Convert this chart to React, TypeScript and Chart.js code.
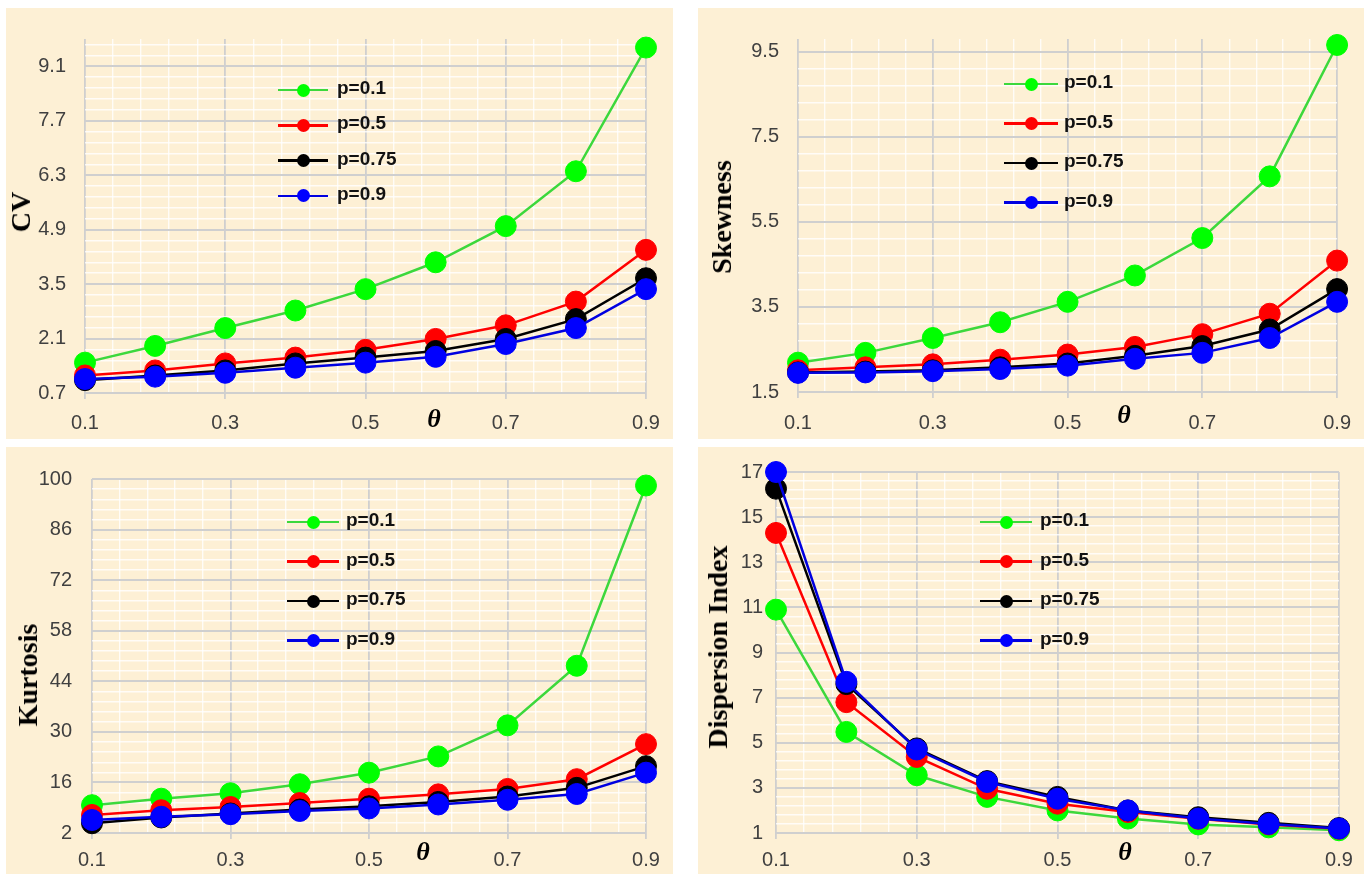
import React, { useEffect, useRef } from "react";
import { Chart, registerables } from "chart.js";

Chart.register(...registerables);

// ---------------- data ----------------
const THETA = [0.1, 0.2, 0.3, 0.4, 0.5, 0.6, 0.7, 0.8, 0.9];
const X_TICKS = [0.1, 0.3, 0.5, 0.7, 0.9];
const X_TICK_LABELS = ["0.1", "0.3", "0.5", "0.7", "0.9"];
const SERIES_LABELS = ["p=0.1", "p=0.5", "p=0.75", "p=0.9"];

const CV_P01 = [1.48, 1.91, 2.37, 2.82, 3.37, 4.06, 4.99, 6.4, 9.58];
const CV_P05 = [1.15, 1.28, 1.46, 1.61, 1.81, 2.09, 2.44, 3.05, 4.38];
const CV_P075 = [1.03, 1.15, 1.28, 1.46, 1.61, 1.78, 2.09, 2.6, 3.65];
const CV_P09 = [1.06, 1.12, 1.22, 1.35, 1.48, 1.63, 1.96, 2.37, 3.37];
const CV_TICKS = [0.7, 2.1, 3.5, 4.9, 6.3, 7.7, 9.1];
const CV_TICK_LABELS = ["0.7", "2.1", "3.5", "4.9", "6.3", "7.7", "9.1"];

const SK_P01 = [2.19, 2.42, 2.77, 3.14, 3.62, 4.24, 5.12, 6.57, 9.66];
const SK_P05 = [2.01, 2.08, 2.15, 2.26, 2.38, 2.56, 2.86, 3.34, 4.59];
const SK_P075 = [1.96, 1.98, 2.01, 2.08, 2.17, 2.35, 2.58, 2.97, 3.92];
const SK_P09 = [1.95, 1.96, 1.99, 2.04, 2.12, 2.28, 2.42, 2.77, 3.62];
const SK_TICKS = [1.5, 3.5, 5.5, 7.5, 9.5];
const SK_TICK_LABELS = ["1.5", "3.5", "5.5", "7.5", "9.5"];

const KU_P01 = [9.7, 11.5, 13.0, 15.5, 18.7, 23.2, 31.8, 48.3, 98.2];
const KU_P05 = [7.0, 8.3, 9.2, 10.3, 11.5, 12.7, 14.2, 16.9, 26.6];
const KU_P075 = [4.7, 6.3, 7.4, 8.5, 9.4, 10.6, 12.1, 14.5, 20.5];
const KU_P09 = [5.6, 6.5, 7.2, 8.1, 8.8, 9.9, 11.2, 12.8, 18.7];
const KU_TICKS = [2, 16, 30, 44, 58, 72, 86, 100];
const KU_TICK_LABELS = ["2", "16", "30", "44", "58", "72", "86", "100"];

const DI_P01 = [10.9, 5.48, 3.56, 2.6, 2.0, 1.64, 1.38, 1.25, 1.12];
const DI_P05 = [14.3, 6.8, 4.37, 2.96, 2.3, 1.93, 1.63, 1.38, 1.19];
const DI_P075 = [16.26, 7.6, 4.75, 3.3, 2.6, 2.0, 1.7, 1.45, 1.22];
const DI_P09 = [17.0, 7.7, 4.7, 3.26, 2.52, 2.0, 1.64, 1.4, 1.2];
const DI_TICKS = [1, 3, 5, 7, 9, 11, 13, 15, 17];
const DI_TICK_LABELS = ["1", "3", "5", "7", "9", "11", "13", "15", "17"];

// ---------------- styles ----------------
const BG = "#FDF0D5";
const MARKER_COLORS = ["#00FF00", "#FF0000", "#000000", "#0000FF"];
const LINE_COLORS = ["#3CD83C", "#FF0000", "#000000", "#0000E0"];
const MAJOR_GRID = "#CFCFCF";
const MINOR_GRID = "rgba(255,255,255,0.8)";
const TICK_COLOR = "#404040";

type PanelCfg = {
  left: number; top: number; width: number; height: number;
  title: string; titleX: number; titleY: number;
  series: number[][];
  yTicks: number[]; yLabels: string[]; yMin: number; yMax: number;
  yWidth: number; yPad: number; xHeight: number; xPad: number;
  padTop: number; padRight: number;
  thetaX: number; thetaY: number;
  legX0: number; legX1: number; legTX: number; legY0: number; legDY: number;
};

const PANELS: PanelCfg[] = [
  {
    left: 6, top: 8, width: 667, height: 431,
    title: "CV", titleX: 21, titleY: 212,
    series: [CV_P01, CV_P05, CV_P075, CV_P09],
    yTicks: CV_TICKS, yLabels: CV_TICK_LABELS, yMin: 0.7, yMax: 9.8,
    yWidth: 79, yPad: 19, xHeight: 46, xPad: 12, padTop: 25, padRight: 27,
    thetaX: 434, thetaY: 419,
    legX0: 278, legX1: 328, legTX: 337, legY0: 90, legDY: 35.3,
  },
  {
    left: 698, top: 8, width: 666, height: 431,
    title: "Skewness", titleX: 722, titleY: 217,
    series: [SK_P01, SK_P05, SK_P075, SK_P09],
    yTicks: SK_TICKS, yLabels: SK_TICK_LABELS, yMin: 1.5, yMax: 9.8,
    yWidth: 100, yPad: 19, xHeight: 47, xPad: 13, padTop: 25, padRight: 24,
    thetaX: 1124, thetaY: 415,
    legX0: 1004, legX1: 1058, legTX: 1064, legY0: 84, legDY: 39.5,
  },
  {
    left: 6, top: 447, width: 667, height: 427,
    title: "Kurtosis", titleX: 28, titleY: 675,
    series: [KU_P01, KU_P05, KU_P075, KU_P09],
    yTicks: KU_TICKS, yLabels: KU_TICK_LABELS, yMin: 2, yMax: 100,
    yWidth: 86, yPad: 20, xHeight: 41, xPad: 9, padTop: 24, padRight: 27,
    thetaX: 423, thetaY: 852,
    legX0: 287, legX1: 339, legTX: 346, legY0: 522, legDY: 39.5,
  },
  {
    left: 698, top: 447, width: 666, height: 427,
    title: "Dispersion Index", titleX: 718, titleY: 647,
    series: [DI_P01, DI_P05, DI_P075, DI_P09],
    yTicks: DI_TICKS, yLabels: DI_TICK_LABELS, yMin: 1, yMax: 17,
    yWidth: 78, yPad: 13, xHeight: 41, xPad: 9, padTop: 24, padRight: 25,
    thetaX: 1125, thetaY: 852,
    legX0: 980, legX1: 1032, legTX: 1040, legY0: 522, legDY: 39.5,
  },
];

function gridValues(majors: number[], max: number): number[] {
  const out: number[] = [];
  const step = majors[1] - majors[0];
  const minor = step / 5;
  for (let i = 0; i < majors.length; i++) {
    out.push(majors[i]);
    for (let k = 1; k < 5; k++) {
      const v = majors[i] + minor * k;
      if (v <= max + 1e-9) out.push(v);
    }
  }
  return out.filter((v) => v <= max + 1e-9);
}

function isMajor(majors: number[], v: number | undefined) {
  if (v === undefined) return false;
  return majors.some((m) => Math.abs(m - v) < 1e-6);
}

function Panel({ cfg }: { cfg: PanelCfg }) {
  const ref = useRef<HTMLCanvasElement | null>(null);

  useEffect(() => {
    if (!ref.current) return;
    const xMajors = X_TICKS;
    const yMajors = cfg.yTicks;
    const chart = new Chart(ref.current, {
      type: "line",
      data: {
        datasets: cfg.series.map((vals, i) => ({
          label: SERIES_LABELS[i],
          data: THETA.map((x, j) => ({ x, y: vals[j] })),
          borderColor: LINE_COLORS[i],
          backgroundColor: MARKER_COLORS[i],
          pointBackgroundColor: MARKER_COLORS[i],
          pointBorderColor: MARKER_COLORS[i],
          pointRadius: 10.5,
          pointBorderWidth: 1,
          borderWidth: 2.5,
          tension: 0,
          clip: false as any,
          order: 3 - i,
        })),
      },
      options: {
        animation: false,
        responsive: false,
        events: [],
        layout: { padding: { top: cfg.padTop, right: cfg.padRight, left: 0, bottom: 0 } },
        plugins: { legend: { display: false }, tooltip: { enabled: false } },
        scales: {
          x: {
            type: "linear",
            min: 0.1,
            max: 0.9,
            afterBuildTicks: (s: any) => {
              s.ticks = gridValues(xMajors, 0.9).map((v) => ({ value: v }));
            },
            afterFit: (s: any) => {
              s.height = cfg.xHeight;
            },
            border: { display: false },
            grid: {
              drawTicks: true,
              tickLength: 6,
              color: (c: any) => (isMajor(xMajors, c.tick?.value) ? MAJOR_GRID : MINOR_GRID),
              tickColor: (c: any) => (isMajor(xMajors, c.tick?.value) ? MAJOR_GRID : "rgba(0,0,0,0)"),
              lineWidth: (c: any) => (isMajor(xMajors, c.tick?.value) ? 1.8 : 1.4),
            },
            ticks: {
              autoSkip: false,
              maxRotation: 0,
              padding: cfg.xPad,
              color: TICK_COLOR,
              font: { family: "'Liberation Sans', Arial, sans-serif", size: 20 },
              callback: (v: any) => {
                const i = xMajors.findIndex((m) => Math.abs(m - Number(v)) < 1e-6);
                return i >= 0 ? X_TICK_LABELS[i] : "";
              },
            },
          },
          y: {
            type: "linear",
            min: cfg.yMin,
            max: cfg.yMax,
            afterBuildTicks: (s: any) => {
              s.ticks = gridValues(yMajors, cfg.yMax).map((v) => ({ value: v }));
            },
            afterFit: (s: any) => {
              s.width = cfg.yWidth;
            },
            border: { display: false },
            grid: {
              drawTicks: false,
              color: (c: any) => (isMajor(yMajors, c.tick?.value) ? MAJOR_GRID : MINOR_GRID),
              lineWidth: (c: any) => (isMajor(yMajors, c.tick?.value) ? 2 : 1.4),
            },
            ticks: {
              autoSkip: false,
              padding: cfg.yPad,
              color: TICK_COLOR,
              font: { family: "'Liberation Sans', Arial, sans-serif", size: 20 },
              callback: (v: any) => {
                const i = yMajors.findIndex((m) => Math.abs(m - Number(v)) < 1e-6);
                return i >= 0 ? cfg.yLabels[i] : "";
              },
            },
          },
        },
      } as any,
    });
    return () => chart.destroy();
  }, [cfg]);

  const L = cfg.left;
  const T = cfg.top;
  return (
    <div
      style={{
        position: "absolute",
        left: L,
        top: T,
        width: cfg.width,
        height: cfg.height,
        background: BG,
        overflow: "visible",
      }}
    >
      <canvas ref={ref} width={cfg.width} height={cfg.height} style={{ display: "block" }} />
      {/* y axis title */}
      <div
        style={{
          position: "absolute",
          left: cfg.titleX - L,
          top: cfg.titleY - T,
          transform: "translate(-50%, -50%) rotate(-90deg)",
          whiteSpace: "nowrap",
          font: "bold 28px 'Liberation Serif', 'Times New Roman', serif",
          color: "#000",
          lineHeight: "30px",
        }}
      >
        {cfg.title}
      </div>
      {/* theta */}
      <div
        style={{
          position: "absolute",
          left: cfg.thetaX - L,
          top: cfg.thetaY - T,
          transform: "translate(-50%, -50%)",
          font: "italic bold 26px 'Liberation Serif', 'DejaVu Serif', serif",
          color: "#000",
          lineHeight: "28px",
        }}
      >
        θ
      </div>
      {/* legend */}
      {SERIES_LABELS.map((lab, i) => {
        const cy = cfg.legY0 + i * cfg.legDY - T;
        const mid = (cfg.legX0 + cfg.legX1) / 2 - L;
        return (
          <React.Fragment key={lab}>
            <div
              style={{
                position: "absolute",
                left: cfg.legX0 - L,
                top: cy - 1.25,
                width: cfg.legX1 - cfg.legX0,
                height: 2.5,
                background: LINE_COLORS[i],
              }}
            />
            <div
              style={{
                position: "absolute",
                left: mid - 6.5,
                top: cy - 6.5,
                width: 13,
                height: 13,
                borderRadius: "50%",
                background: MARKER_COLORS[i],
              }}
            />
            <div
              style={{
                position: "absolute",
                left: cfg.legTX - L,
                top: cy - 13,
                height: 26,
                lineHeight: "26px",
                font: "bold 19px 'Liberation Sans', Arial, sans-serif",
                color: "#111",
                whiteSpace: "nowrap",
              }}
            >
              {lab}
            </div>
          </React.Fragment>
        );
      })}
    </div>
  );
}

export default function App() {
  return (
    <div
      style={{
        position: "absolute",
        left: 0,
        top: 0,
        width: 1370,
        height: 874,
        background: "#FFFFFF",
        overflow: "hidden",
      }}
    >
      {PANELS.map((p) => (
        <Panel key={p.title} cfg={p} />
      ))}
    </div>
  );
}
